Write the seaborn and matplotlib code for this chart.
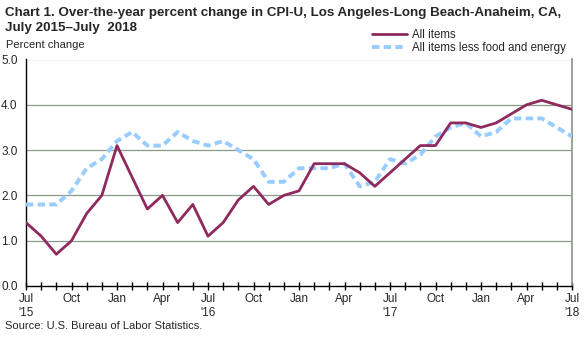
import matplotlib
matplotlib.use("Agg")
import matplotlib.pyplot as plt
import seaborn as sns
import pandas as pd
import numpy as np

months = ["Jul 2015", "Aug 2015", "Sep 2015", "Oct 2015", "Nov 2015", "Dec 2015",
          "Jan 2016", "Feb 2016", "Mar 2016", "Apr 2016", "May 2016", "Jun 2016",
          "Jul 2016", "Aug 2016", "Sep 2016", "Oct 2016", "Nov 2016", "Dec 2016",
          "Jan 2017", "Feb 2017", "Mar 2017", "Apr 2017", "May 2017", "Jun 2017",
          "Jul 2017", "Aug 2017", "Sep 2017", "Oct 2017", "Nov 2017", "Dec 2017",
          "Jan 2018", "Feb 2018", "Mar 2018", "Apr 2018", "May 2018", "Jun 2018",
          "Jul 2018"]
all_items = [1.4, 1.1, 0.7, 1.0, 1.6, 2.0,
             3.1, 2.4, 1.7, 2.0, 1.4, 1.8,
             1.1, 1.4, 1.9, 2.2, 1.8, 2.0,
             2.1, 2.7, 2.7, 2.7, 2.5, 2.2,
             2.5, 2.8, 3.1, 3.1, 3.6, 3.6,
             3.5, 3.6, 3.8, 4.0, 4.1, 4.0,
             3.9]
core = [1.8, 1.8, 1.8, 2.1, 2.6, 2.8,
        3.2, 3.4, 3.1, 3.1, 3.4, 3.2,
        3.1, 3.2, 3.0, 2.8, 2.3, 2.3,
        2.6, 2.6, 2.6, 2.7, 2.2, 2.3,
        2.8, 2.7, 2.9, 3.3, 3.5, 3.6,
        3.3, 3.4, 3.7, 3.7, 3.7, 3.5,
        3.3]
tick_labels = ["Jul\n'15", "Oct", "Jan", "Apr", "Jul\n'16", "Oct", "Jan", "Apr",
               "Jul\n'17", "Oct", "Jan", "Apr", "Jul\n'18"]
y_ticks = [0.0, 1.0, 2.0, 3.0, 4.0, 5.0]
series_names = ["All items", "All items less food and energy"]

sns.set_theme(style="white")
plt.rcParams['font.family'] = ['Liberation Sans', 'DejaVu Sans']

idx = np.arange(len(months))
df = pd.DataFrame({
    "t": np.concatenate([idx, idx]),
    "value": all_items + core,
    "series": [series_names[0]] * len(months) + [series_names[1]] * len(months),
})

fig = plt.figure(figsize=(5.88, 3.37), dpi=100)
ax = fig.add_axes([26 / 588, 1 - 286 / 337, (572 - 26) / 588, (286 - 59.5) / 337])

palette = {series_names[0]: "#8E2A5E", series_names[1]: "#99CCFF"}
sns.lineplot(data=df[df.series == series_names[0]], x="t", y="value", color=palette[series_names[0]],
             linewidth=2.0, ax=ax, label=series_names[0], zorder=4)
sns.lineplot(data=df[df.series == series_names[1]], x="t", y="value", color=palette[series_names[1]],
             linewidth=2.8, ax=ax, label=series_names[1], zorder=3)
ax.lines[1].set_dashes([1.9, 1.1])

ax.set_xlim(0, len(months) - 1)
ax.set_ylim(0, 5)
ax.set_yticks(y_ticks)
ax.set_yticklabels([f"{v:.1f}" for v in y_ticks], fontsize=8.5)
ax.set_xticks(idx, minor=True)
ax.set_xticks(idx[::3])
ax.set_xticklabels(tick_labels, fontsize=8.5)
ax.tick_params(axis="x", which="both", direction="inout", length=6, width=1, color="black", pad=2, bottom=True)
ax.tick_params(axis="y", left=False, length=0, pad=6)
ax.set_xlabel("")
ax.set_ylabel("")

for v in y_ticks[1:]:
    ax.axhline(v, color="#8A9A8A", linewidth=0.9, zorder=1)

ax.spines["left"].set_color("black")
ax.spines["bottom"].set_color("black")
ax.spines["left"].set_linewidth(1)
ax.spines["bottom"].set_linewidth(1)
ax.spines["right"].set_color("#8A9A8A")
ax.spines["top"].set_visible(False)

leg = ax.legend(loc="lower right", bbox_to_anchor=(1.0, 1.0), frameon=False, fontsize=8.3,
                handlelength=3.0, handletextpad=0.5, borderaxespad=0.1, labelspacing=0.1)

fig.text(5 / 588, 1 - 13 / 337, "Chart 1. Over-the-year percent change in CPI-U, Los Angeles-Long Beach-Anaheim, CA,",
         fontsize=9.6, fontweight="bold", va="center", ha="left")
fig.text(5 / 588, 1 - 28 / 337, "July 2015\u2013July  2018",
         fontsize=9.6, fontweight="bold", va="center", ha="left")
fig.text(6 / 588, 1 - 45 / 337, "Percent change", fontsize=8, va="center", ha="left")
fig.text(5 / 588, 1 - 326 / 337, "Source: U.S. Bureau of Labor Statistics.", fontsize=8, va="center", ha="left")

fig.savefig("out.png", dpi=100)
